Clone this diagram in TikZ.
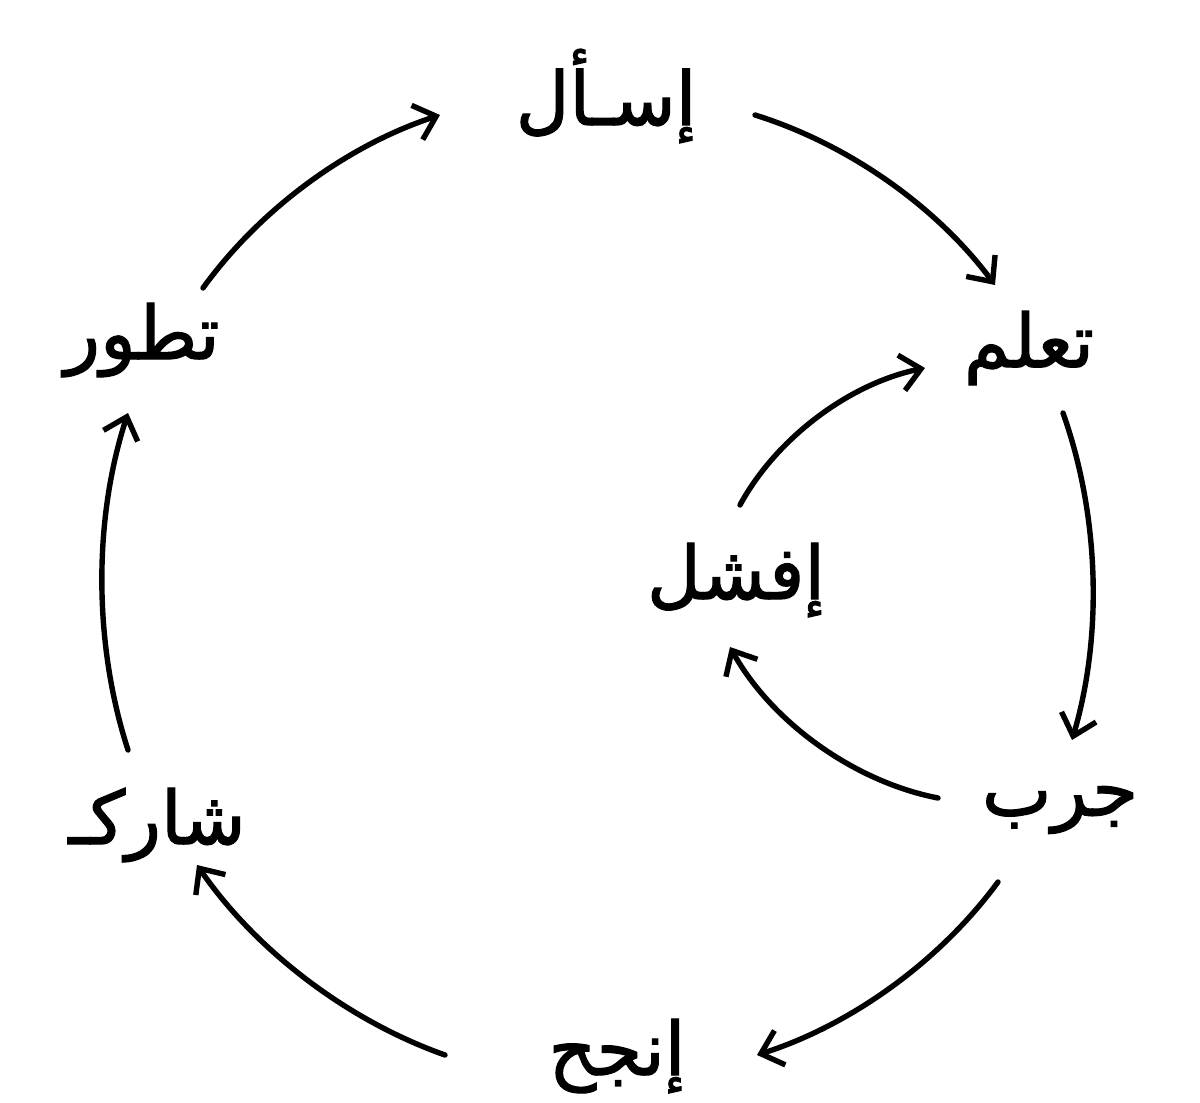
\documentclass[tikz,border=0pt]{standalone}
\usepackage{fontspec}
\newfontfamily\arabicfont[Script=Arabic,FakeBold=1.6]{DejaVu Sans}
\TeXXeTstate=1
\usetikzlibrary{arrows.meta}
\begin{document}
\begin{tikzpicture}[x=0.5pt,y=-0.5pt,
  word/.style={font=\arabicfont\fontsize{37}{44}\selectfont, inner sep=0pt},
  flow/.style={line width=2.7pt, line cap=round,
    -{Straight Barb[length=10pt,width=18pt,line width=2.7pt]}, looseness=0.85},
]
\useasboundingbox (0,0) rectangle (1200,1103);
\fill[white] (0,0) rectangle (1200,1103);
% words
\node[word] (isal)    at (606,96)   {\beginR إسـأل\endR};
\node[word] (taallam) at (1029,348) {\beginR تعلم\endR};
\node[word] (jarrib)  at (1060,810) {\beginR جرب\endR};
\node[word] (injah)   at (617,1056) {\beginR إنجح\endR};
\node[word] (sharik)  at (157,825)  {\beginR شاركـ\endR};
\node[word] (tatwer)  at (142,340)  {\beginR تطور\endR};
\node[word] (ifshal)  at (736,580)  {\beginR إفشل\endR};
% arrow ends
\coordinate (a1s) at (203,288);  \coordinate (a1e) at (440,115);
\coordinate (a2s) at (755,115);  \coordinate (a2e) at (995,285);
\coordinate (a3s) at (1063,413); \coordinate (a3e) at (1072,740);
\coordinate (a4s) at (998,882);  \coordinate (a4e) at (757,1055);
\coordinate (a5s) at (445,1055); \coordinate (a5e) at (197,865);
\coordinate (a6s) at (128,750);  \coordinate (a6e) at (128,413);
\coordinate (a7s) at (938,798);  \coordinate (a7e) at (730,647);
\coordinate (a8s) at (740,505);  \coordinate (a8e) at (925,368);
% connectors
\draw[flow] (a1s) to[bend left=18] (a1e);
\draw[flow] (a2s) to[bend left=18] (a2e);
\draw[flow] (a3s) to[bend left=18] (a3e);
\draw[flow] (a4s) to[bend left=18] (a4e);
\draw[flow] (a5s) to[bend left=18] (a5e);
\draw[flow] (a6s) to[bend left=18] (a6e);
\draw[flow] (a7s) to[bend left=25] (a7e);
\draw[flow] (a8s) to[bend left=25] (a8e);
\end{tikzpicture}
\end{document}
